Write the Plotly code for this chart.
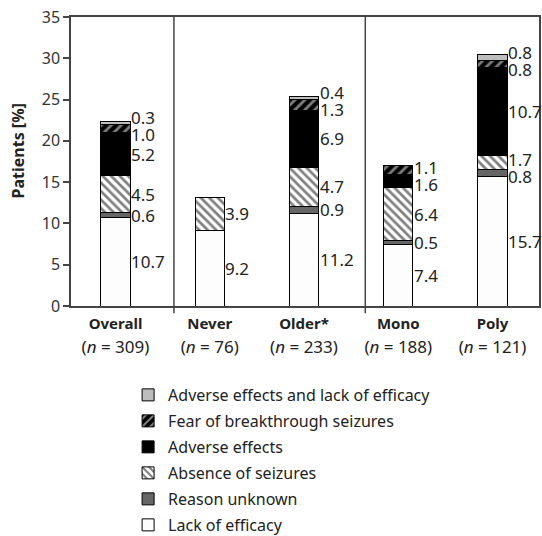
import plotly.graph_objects as go

categories = ["Overall", "Never", "Older*", "Mono", "Poly"]
n_values = [309, 76, 233, 188, 121]

lack_of_efficacy = [10.7, 9.2, 11.2, 7.4, 15.7]
reason_unknown = [0.6, 0.0, 0.9, 0.5, 0.8]
absence_of_seizures = [4.5, 3.9, 4.7, 6.4, 1.7]
adverse_effects = [5.2, 0.0, 6.9, 1.6, 10.7]
fear_of_breakthrough = [1.0, 0.0, 1.3, 1.1, 0.8]
adverse_and_lack = [0.3, 0.0, 0.4, 0.0, 0.8]

y_ticks = [0, 5, 10, 15, 20, 25, 30, 35]

FONT = "Noto Sans"
series = [
    ("Lack of efficacy", lack_of_efficacy, dict(color="#fdfdfd")),
    ("Reason unknown", reason_unknown, dict(color="#666666")),
    ("Absence of seizures", absence_of_seizures,
     dict(color="white", pattern=dict(shape="\\", fgcolor="black", bgcolor="white",
                                      size=6, solidity=0.45, fillmode="overlay"))),
    ("Adverse effects", adverse_effects, dict(color="black")),
    ("Fear of breakthrough seizures", fear_of_breakthrough,
     dict(color="black", pattern=dict(shape="/", fgcolor="white", bgcolor="black",
                                      size=7, solidity=0.4, fillmode="overlay"))),
    ("Adverse effects and lack of efficacy", adverse_and_lack, dict(color="#bdbdbd")),
]

xs = list(range(len(categories)))
bar_w = 0.31
fig = go.Figure()
for i, (name, vals, mk) in enumerate(series):
    marker = dict(mk)
    marker["line"] = dict(color="black", width=1)
    fig.add_trace(go.Bar(x=xs, y=vals, name=name, width=bar_w, marker=marker,
                         legendgroup=f"g{i}", legendrank=1000 - i))

# value labels, spread to avoid overlap
min_gap = 2.05
annotations = []
for ci, x in enumerate(xs):
    base = 0.0
    items = []
    for name, vals, mk in series:
        v = vals[ci]
        if v > 0:
            items.append([base + v / 2, v])
        base += v
    for _ in range(20):
        for k in range(len(items) - 1):
            a, b = items[k], items[k + 1]
            if b[0] - a[0] < min_gap:
                m = (a[0] + b[0]) / 2
                a[0] = m - min_gap / 2
                b[0] = m + min_gap / 2
    for yv, v in items:
        annotations.append(dict(x=x + bar_w / 2, y=yv, text=f"{v:.1f}", showarrow=False,
                                xanchor="left", yanchor="middle", xshift=-1,
                                font=dict(family=FONT, size=17, color="#222")))

# y-axis title
annotations.append(dict(xref="paper", yref="paper", x=-0.113, y=0.535,
                        text="<b>Patients [%]</b>", textangle=-90, showarrow=False,
                        xanchor="center", yanchor="middle",
                        font=dict(family=FONT, size=16, color="#222")))

ticktext = [f"<span style='font-size:15px'><b>{c}</b></span><br>"
            f"<span style='font-size:17px'>(<i>n</i> = {n})</span>"
            for c, n in zip(categories, n_values)]

shapes = []
for xd in [0.62, 2.65]:
    shapes.append(dict(type="line", xref="x", yref="paper", x0=xd, x1=xd, y0=-0.025, y1=1,
                       line=dict(color="#444", width=1.5)))

fig.update_layout(
    barmode="stack",
    width=542, height=536,
    margin=dict(l=71, r=3, t=17, b=230, autoexpand=False),
    paper_bgcolor="white", plot_bgcolor="white",
    font=dict(family=FONT, color="#222"),
    annotations=annotations,
    shapes=shapes,
    showlegend=True,
    legend=dict(traceorder="grouped", tracegroupgap=2.2,
                x=0.122, xanchor="left", y=-0.249, yanchor="top",
                font=dict(family=FONT, size=16, color="#222"),
                bgcolor="rgba(0,0,0,0)"),
    xaxis=dict(range=[-0.472, 4.493], tickvals=xs, ticktext=ticktext, automargin=False,
               showline=True, linecolor="#444", linewidth=1.5, mirror=True,
               ticks="", showgrid=False, zeroline=False,
               tickfont=dict(family=FONT, size=18, color="#222")),
    yaxis=dict(range=[0, 35], tickvals=y_ticks, showline=True, linecolor="#444", automargin=False,
               linewidth=1.5, mirror=True, ticks="outside", ticklen=6, tickcolor="#444",
               tickwidth=1.5, showgrid=False, zeroline=False, ticklabeloverflow="allow",
               tickfont=dict(family=FONT, size=16, color="#333")),
)

fig.write_html("out.html", config={"displayModeBar": False},
               post_script="document.body.style.margin='0';document.body.style.overflow='hidden';")
